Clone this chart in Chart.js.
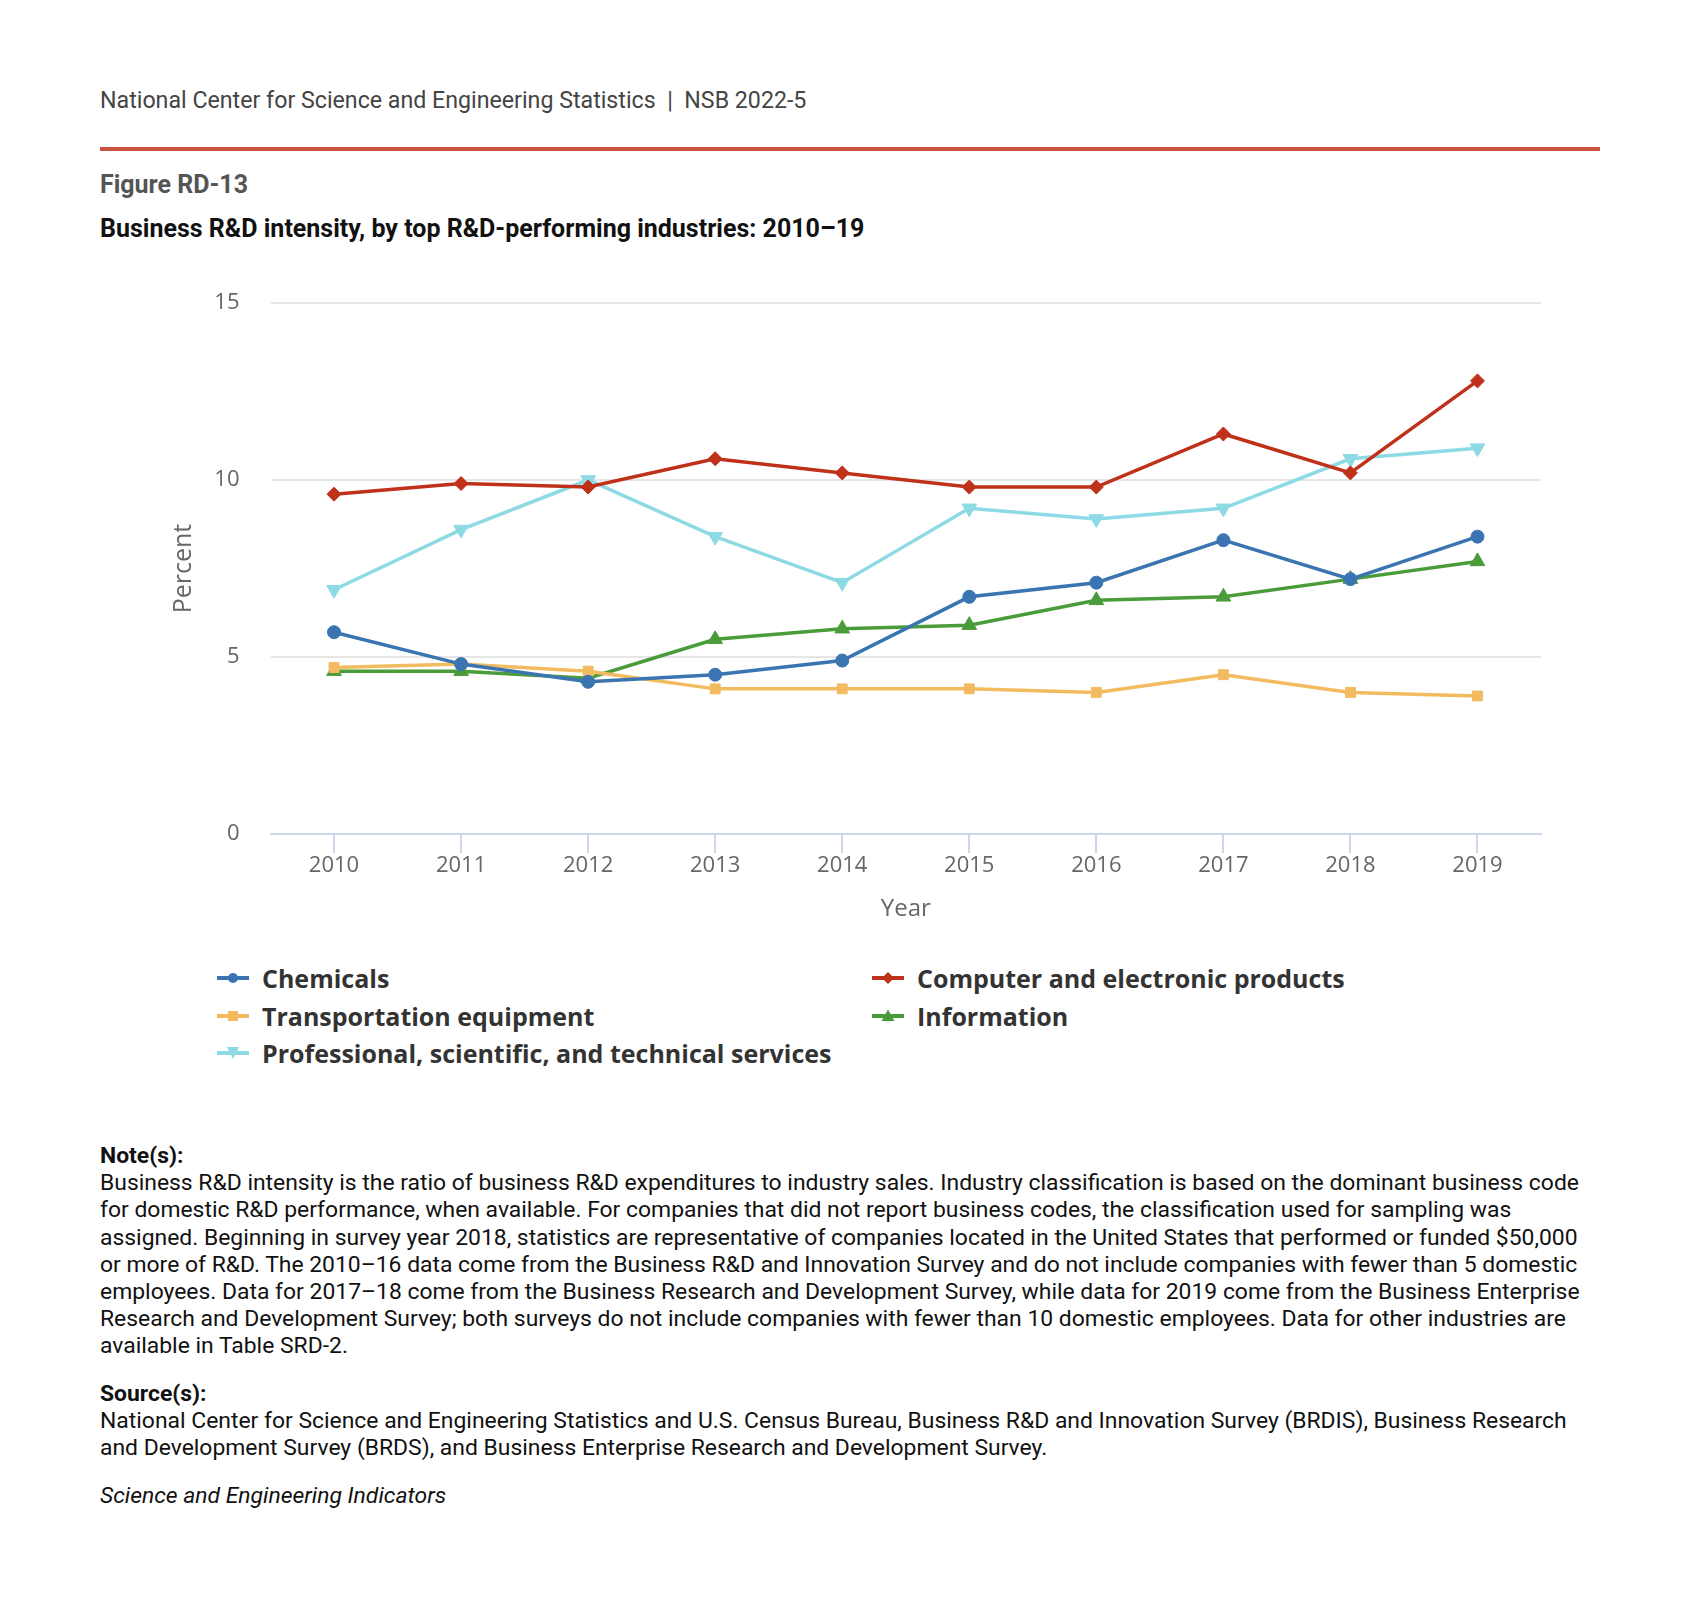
<!DOCTYPE html>
<html>
<head>
<meta charset="utf-8">
<script src="https://cdn.jsdelivr.net/npm/chart.js@4"></script>
<style>
  html, body { margin:0; padding:0; background:#fff; }
  body { width:1699px; height:1617px; position:relative; overflow:hidden; font-family: Roboto, "Liberation Sans", sans-serif; }
  .abs { position:absolute; white-space:nowrap; }
  #hdr { left:100px; top:86px; font-size:23.2px; line-height:28px; color:#444; }
  #rule { left:100px; top:147px; width:1500px; height:4px; background:#c9533e; }
  #fig { left:100px; top:171px; font-size:25px; line-height:28px; color:#555; font-weight:bold; }
  #ttl { left:100px; top:215px; font-size:25px; line-height:28px; color:#111; font-weight:bold; }
  #cv { position:absolute; left:0; top:0; }
  .leg { position:absolute; font-family:"Open Sans", sans-serif; font-weight:bold; font-size:25px; color:#333; line-height:30px; white-space:nowrap; }
  .leg svg { position:absolute; left:-45px; top:5px; }
  #notes { left:100px; top:1142px; font-size:22.9px; line-height:27.2px; color:#111; }
  #notes b { font-weight:bold; }
</style>
</head>
<body>
<div class="abs" id="hdr">National Center for Science and Engineering Statistics &nbsp;|&nbsp; NSB 2022-5</div>
<div class="abs" id="rule"></div>
<div class="abs" id="fig">Figure RD-13</div>
<div class="abs" id="ttl">Business R&amp;D intensity, by top R&amp;D-performing industries: 2010–19</div>
<canvas id="cv" width="1699" height="960"></canvas>
<div id="legend"></div>
<div class="abs" id="notes"><b>Note(s):</b><br>Business R&amp;D intensity is the ratio of business R&amp;D expenditures to industry sales. Industry classification is based on the dominant business code<br>for domestic R&amp;D performance, when available. For companies that did not report business codes, the classification used for sampling was<br>assigned. Beginning in survey year 2018, statistics are representative of companies located in the United States that performed or funded $50,000<br>or more of R&amp;D. The 2010–16 data come from the Business R&amp;D and Innovation Survey and do not include companies with fewer than 5 domestic<br>employees. Data for 2017–18 come from the Business Research and Development Survey, while data for 2019 come from the Business Enterprise<br>Research and Development Survey; both surveys do not include companies with fewer than 10 domestic employees. Data for other industries are<br>available in Table SRD-2.<br><div style="height:20px"></div><b>Source(s):</b><br>National Center for Science and Engineering Statistics and U.S. Census Bureau, Business R&amp;D and Innovation Survey (BRDIS), Business Research<br>and Development Survey (BRDS), and Business Enterprise Research and Development Survey.<br><div style="height:21px"></div><i>Science and Engineering Indicators</i></div>
<script>
const years = ['2010','2011','2012','2013','2014','2015','2016','2017','2018','2019'];
const chemicals = [5.7, 4.8, 4.3, 4.5, 4.9, 6.7, 7.1, 8.3, 7.2, 8.4];
const computer = [9.6, 9.9, 9.8, 10.6, 10.2, 9.8, 9.8, 11.3, 10.2, 12.8];
const transportation = [4.7, 4.8, 4.6, 4.1, 4.1, 4.1, 4.0, 4.5, 4.0, 3.9];
const information = [4.6, 4.6, 4.4, 5.5, 5.8, 5.9, 6.6, 6.7, 7.2, 7.7];
const professional = [6.9, 8.6, 10.0, 8.4, 7.1, 9.2, 8.9, 9.2, 10.6, 10.9];
const yTicks = [0, 5, 10, 15];

const series = [
  {label:'Chemicals', data:chemicals, color:'#3a75b1', style:'circle', r:6.5, rot:0},
  {label:'Computer and electronic products', data:computer, color:'#c0311a', style:'rectRot', r:7, rot:0},
  {label:'Transportation equipment', data:transportation, color:'#f2bb60', style:'rect', r:7, rot:0},
  {label:'Information', data:information, color:'#4a9c3a', style:'triangle', r:8.5, rot:0},
  {label:'Professional, scientific, and technical services', data:professional, color:'#8ddae4', style:'triangle', r:8.5, rot:180}
];

const datasets = series.map((s, i) => ({
  label: s.label, data: s.data,
  borderColor: s.color, backgroundColor: s.color,
  pointBackgroundColor: s.color, pointBorderColor: s.color,
  borderWidth: 3.5, pointStyle: s.style, pointRadius: s.r, pointRotation: s.rot,
  pointBorderWidth: 1, tension: 0, order: i
}));

new Chart(document.getElementById('cv'), {
  type: 'line',
  data: { labels: years, datasets },
  options: {
    responsive: false, animation: false, devicePixelRatio: 1,
    layout: { padding: { left:150, right:158, top:303, bottom:26 } },
    plugins: { legend: { display:false }, tooltip: { enabled:false } },
    scales: {
      x: {
        type:'category', offset:true,
        grid: { display:true, drawOnChartArea:false, drawTicks:true, tickLength:19, color:'#ccd6eb', lineWidth:2, offset:false },
        border: { display:true, color:'#ccd6eb', width:2 },
        ticks: { color:'#666', font:{ family:'"Open Sans"', size:22 }, padding:0, maxRotation:0, autoSkip:false },
        title: { display:true, text:'Year', color:'#666', font:{ family:'"Open Sans"', size:24 }, padding:{ top:0, bottom:10.5 } },
        afterFit: s => { s.height = 100; }
      },
      y: {
        min:0, max:15,
        afterBuildTicks: s => { s.ticks = yTicks.map(v => ({value:v})); },
        grid: { color:'#e6e6e6', lineWidth:2, drawTicks:false },
        border: { display:false },
        ticks: { color:'#666', font:{ family:'"Open Sans"', size:22 }, padding:31 },
        title: { display:true, text:'Percent', color:'#666', font:{ family:'"Open Sans"', size:25 }, padding:{ top:19, bottom:0 } },
        afterFit: s => { s.width = 120.5; }
      }
    }
  }
});

// HTML legend (two columns)
const legPos = [
  {x:262, y:963}, {x:917, y:963},
  {x:262, y:1001}, {x:917, y:1001},
  {x:262, y:1038}
];
const legendEl = document.getElementById('legend');
series.forEach((s, i) => {
  const d = document.createElement('div');
  d.className = 'leg';
  d.style.left = legPos[i].x + 'px';
  d.style.top = legPos[i].y + 'px';
  let mk = '';
  const c = s.color;
  if (s.style === 'circle') mk = `<circle cx="16" cy="10" r="5" fill="${c}"/>`;
  else if (s.style === 'rectRot') mk = `<polygon points="16,4 22,10 16,16 10,10" fill="${c}"/>`;
  else if (s.style === 'rect') mk = `<rect x="11" y="5" width="10" height="10" fill="${c}"/>`;
  else if (s.rot === 180) mk = `<polygon points="10,4 22,4 16,16" fill="${c}"/>`;
  else mk = `<polygon points="16,3.5 22.5,15 9.5,15" fill="${c}"/>`;
  d.innerHTML = `<svg width="32" height="20" viewBox="0 0 32 20"><line x1="0" y1="10" x2="32" y2="10" stroke="${c}" stroke-width="4"/>${mk}</svg>` + s.label;
  legendEl.appendChild(d);
});
</script>
</body>
</html>
